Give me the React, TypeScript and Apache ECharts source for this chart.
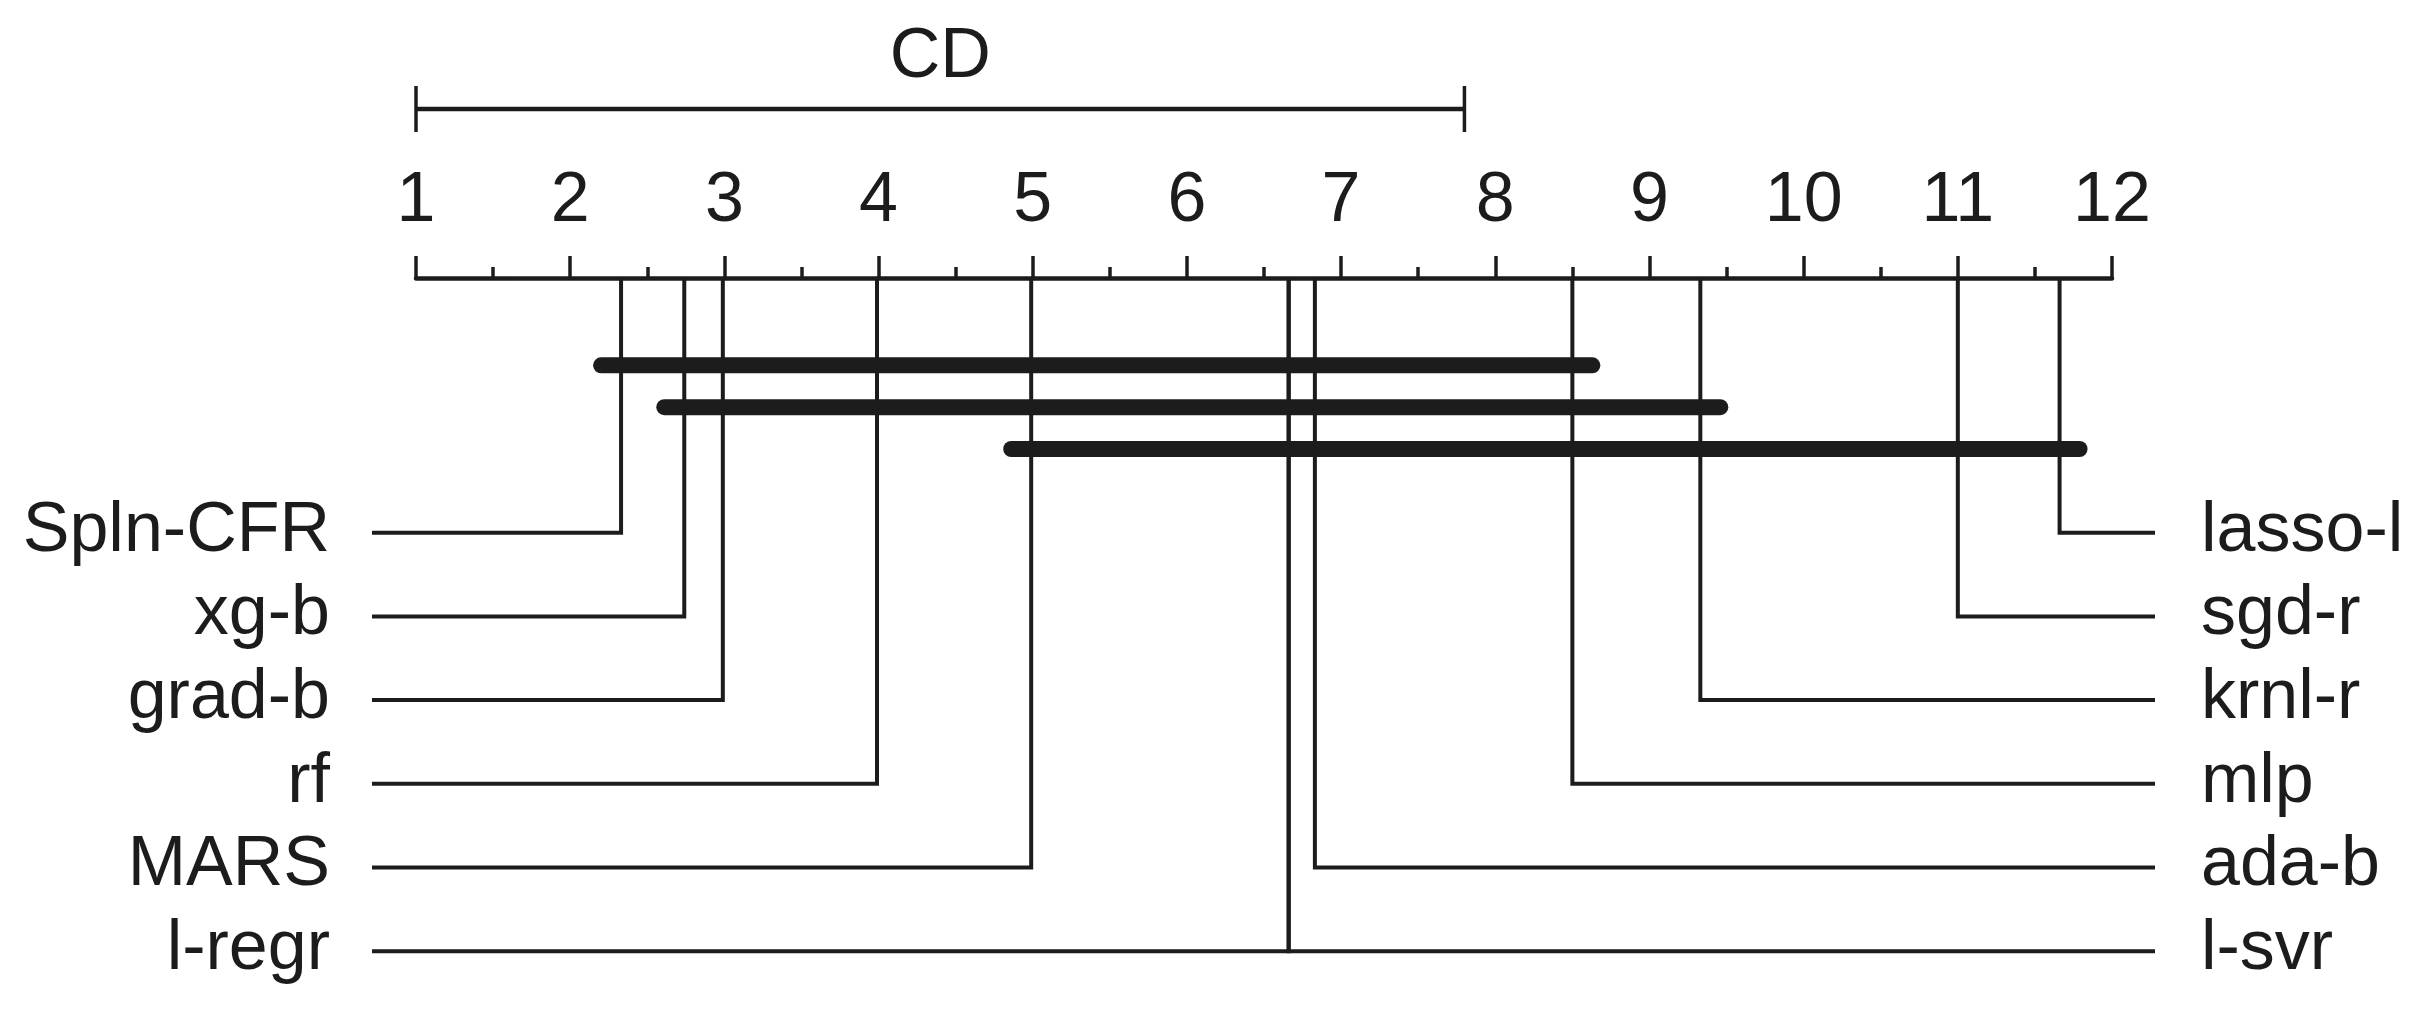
import * as echarts from "echarts";
import { useEffect, useRef } from "react";

// Methods and their average ranks
const methodNames = [
  "Spln-CFR",
  "xg-b",
  "grad-b",
  "rf",
  "MARS",
  "l-regr",
  "l-svr",
  "ada-b",
  "mlp",
  "krnl-r",
  "sgd-r",
  "lasso-l",
];
const avgRanks = [2.33, 2.74, 2.99, 3.99, 4.99, 6.66, 6.66, 6.83, 8.5, 9.33, 11.0, 11.66];

// Cliques of methods not significantly different (from method -> to method)
const cliqueFrom = ["Spln-CFR", "xg-b", "MARS"];
const cliqueTo = ["mlp", "krnl-r", "lasso-l"];

// Critical difference
const criticalDifference = 6.8;

// Rank axis range
const rankMin = 1;
const rankMax = 12;

const INK = "#1c1c1c";
const FONT = '"Liberation Sans", Arial, Helvetica, sans-serif';

export default function App() {
  const ref = useRef<HTMLDivElement>(null);

  useEffect(() => {
    document.body.style.margin = "0";
    const chart = echarts.init(ref.current!, null, { renderer: "svg" });

    const n = methodNames.length;
    const half = Math.ceil(n / 2);
    const order = avgRanks
      .map((_, i) => i)
      .sort((a, b) => avgRanks[a] - avgRanks[b]);
    const methodData = order.map((idx, k) =>
      k < half ? [avgRanks[idx], k, 0, idx] : [avgRanks[idx], n - 1 - k, 1, idx]
    );

    const rankOf = (name: string) => avgRanks[methodNames.indexOf(name)];
    const cliqueData = cliqueFrom.map((f, k) => [rankOf(f), rankOf(cliqueTo[k]), -2 + 0.5 * k]);

    const option: any = {
      animation: false,
      backgroundColor: "#ffffff",
      grid: { left: 416, right: 306, top: 278, height: 715 },
      xAxis: {
        type: "value",
        position: "top",
        min: rankMin,
        max: rankMax,
        interval: 1,
        axisLine: { show: true, onZero: false, lineStyle: { color: INK, width: 4.5 } },
        axisTick: { show: true, length: 22, lineStyle: { color: INK, width: 3.5 } },
        minorTick: { show: true, splitNumber: 2, length: 11, lineStyle: { color: INK, width: 3.5 } },
        axisLabel: { fontSize: 70, fontFamily: FONT, color: INK, margin: 46 },
        splitLine: { show: false },
      },
      yAxis: {
        type: "value",
        inverse: true,
        min: -3.043,
        max: 5.5,
        show: false,
      },
      series: [
        {
          type: "custom",
          clip: false,
          data: methodData,
          renderItem: (params: any, api: any) => {
            const r = api.value(0);
            const row = api.value(1);
            const side = api.value(2);
            const idx = api.value(3);
            const cs = params.coordSys;
            const p = api.coord([r, row]);
            const top = cs.y;
            const endX = side === 0 ? cs.x - 44 : cs.x + cs.width + 43;
            const textX = side === 0 ? cs.x - 86 : cs.x + cs.width + 89;
            return {
              type: "group",
              children: [
                {
                  type: "polyline",
                  shape: { points: [[p[0], top], [p[0], p[1]], [endX, p[1]]] },
                  style: { stroke: INK, lineWidth: 4, fill: null, lineJoin: "miter" },
                },
                {
                  type: "text",
                  style: {
                    text: methodNames[idx],
                    x: textX,
                    y: p[1] - 6,
                    fill: INK,
                    fontSize: 70,
                    fontFamily: FONT,
                    align: side === 0 ? "right" : "left",
                    verticalAlign: "middle",
                  },
                },
              ],
            };
          },
        },
        {
          type: "custom",
          clip: false,
          data: cliqueData,
          renderItem: (params: any, api: any) => {
            const a = api.coord([api.value(0), api.value(2)]);
            const b = api.coord([api.value(1), api.value(2)]);
            return {
              type: "line",
              shape: { x1: a[0] - 20, y1: a[1], x2: b[0] + 20, y2: b[1] },
              style: { stroke: INK, lineWidth: 16, lineCap: "round" },
            };
          },
        },
        {
          type: "custom",
          clip: false,
          data: [[rankMin, criticalDifference]],
          renderItem: (params: any, api: any) => {
            const cs = params.coordSys;
            const x1 = api.coord([api.value(0), 0])[0];
            const x2 = api.coord([api.value(0) + api.value(1), 0])[0];
            const y = cs.y - 169;
            return {
              type: "group",
              children: [
                { type: "line", shape: { x1, y1: y, x2, y2: y }, style: { stroke: INK, lineWidth: 4.5 } },
                { type: "line", shape: { x1, y1: y - 23, x2: x1, y2: y + 23 }, style: { stroke: INK, lineWidth: 3.5 } },
                { type: "line", shape: { x1: x2, y1: y - 23, x2, y2: y + 23 }, style: { stroke: INK, lineWidth: 3.5 } },
                {
                  type: "text",
                  style: {
                    text: "CD",
                    x: (x1 + x2) / 2,
                    y: cs.y - 225,
                    fill: INK,
                    fontSize: 70,
                    fontFamily: FONT,
                    align: "center",
                    verticalAlign: "middle",
                  },
                },
              ],
            };
          },
        },
      ],
    };

    chart.setOption(option);
    return () => chart.dispose();
  }, []);

  return <div ref={ref} style={{ width: 2418, height: 1026 }} />;
}
